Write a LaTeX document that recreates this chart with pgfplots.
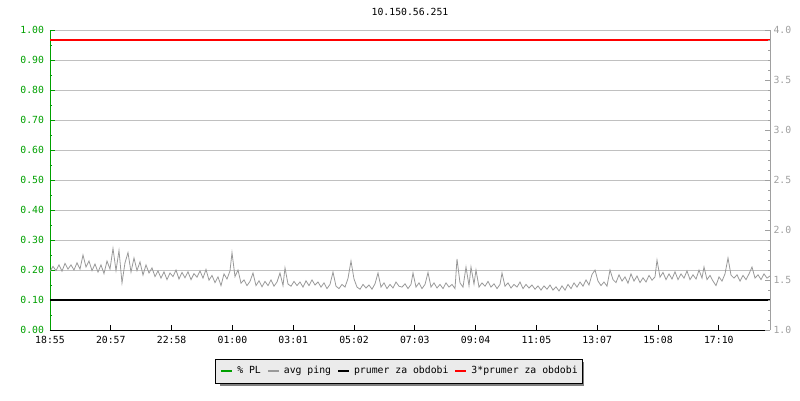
\documentclass[border=0pt]{standalone}
\usepackage{fontspec}
\setmainfont{DejaVu Sans Mono}
\usepackage{pgfplots}
\pgfplotsset{compat=1.18}
\definecolor{plgreen}{HTML}{00A000}
\definecolor{pinggray}{HTML}{999999}
\definecolor{gridgray}{HTML}{C0C0C0}
\definecolor{raxgray}{HTML}{A0A0A0}
\definecolor{legfill}{HTML}{EBEBEB}
\definecolor{shadowgray}{HTML}{808080}
\definecolor{pured}{RGB}{255,0,0}
\begin{document}
\begin{tikzpicture}[font=\fontsize{9.8}{11}\selectfont]
\path[use as bounding box] (0pt,0pt) rectangle (800pt,400pt);
\fill[shadowgray] (220pt,14pt) rectangle (584pt,38pt);
\begin{axis}[
  at={(50pt,70pt)}, anchor=south west,
  width=720pt, height=300pt, scale only axis,
  xmin=0, xmax=720, ymin=0, ymax=1,
  axis lines*=left,
  x axis line style={black, line width=0.8pt},
  y axis line style={plgreen, line width=0.8pt},
  tick align=inside,
  major tick length=5pt, minor tick length=2.5pt,
  xtick={0,60.8,121.6,182.4,243.2,304,364.8,425.6,486.4,547.2,608,668.8},
  xticklabels={18:55,20:57,22:58,01:00,03:01,05:02,07:03,09:04,11:05,13:07,15:08,17:10},
  x tick style={black, line width=0.8pt},
  ytick={0,0.1,0.2,0.3,0.4,0.5,0.6,0.7,0.8,0.9,1.0},
  minor y tick num=1,
  y tick style={plgreen, line width=0.8pt},
  ymajorgrids,
  major grid style={gridgray, line width=0.8pt},
  yticklabel style={plgreen, xshift=-2.5pt, /pgf/number format/.cd, fixed, fixed zerofill, precision=2, assume math mode=true},
  xticklabel style={black, yshift=-2.5pt},
  title={10.150.56.251},
  every axis title/.style={at={(0.5,1)}, anchor=center, yshift=18pt},
  legend columns=4,
  legend style={at={(0.4847,-0.1367)}, anchor=center, draw=black, fill=legfill,
    line width=0.8pt, inner xsep=5pt, inner ysep=7.5pt,
    nodes={inner sep=0pt, anchor=base west},
    /tikz/every odd column/.append style={column sep=4pt},
    /tikz/every even column/.append style={column sep=6pt},
    font=\fontsize{9.8}{11}\selectfont},
  legend image code/.code={\draw[#1, line width=2pt] (0pt,0.3em) -- (11pt,0.3em);},
]
\addlegendimage{plgreen}
\addlegendentry{\% PL}
\addplot[pinggray, line width=0.8pt] coordinates {
(0,0.195)(3,0.212)(6,0.198)(9,0.217)(12,0.196)(15,0.222)(18,0.203)(21,0.217)(24,0.200)(27,0.224)
(30,0.203)(33,0.250)(36,0.210)(39,0.230)(42,0.198)(45,0.220)(48,0.193)(51,0.217)(54,0.188)(57,0.230)
(60,0.203)(63,0.272)(66,0.198)(69,0.265)(72,0.157)(75,0.224)(78,0.258)(81,0.193)(84,0.240)(87,0.198)
(90,0.227)(93,0.183)(96,0.217)(99,0.190)(102,0.207)(105,0.178)(108,0.197)(111,0.173)(114,0.194)(117,0.168)
(120,0.190)(123,0.178)(126,0.200)(129,0.170)(132,0.192)(135,0.174)(138,0.194)(141,0.168)(144,0.188)(147,0.176)
(150,0.197)(153,0.173)(156,0.202)(159,0.166)(162,0.182)(165,0.158)(168,0.177)(171,0.148)(174,0.187)(177,0.170)
(180,0.197)(182,0.258)(185,0.178)(188,0.200)(191,0.156)(194,0.167)(197,0.148)(200,0.162)(203,0.190)(206,0.148)
(209,0.164)(212,0.144)(215,0.162)(218,0.148)(221,0.167)(224,0.146)(227,0.160)(230,0.190)(233,0.148)(235,0.207)
(238,0.153)(241,0.146)(244,0.162)(247,0.148)(250,0.160)(253,0.143)(256,0.164)(259,0.148)(262,0.167)(265,0.150)
(268,0.160)(271,0.143)(274,0.157)(277,0.138)(280,0.152)(283,0.193)(286,0.146)(289,0.138)(292,0.152)(295,0.143)
(298,0.172)(301,0.230)(304,0.170)(307,0.143)(310,0.136)(313,0.152)(316,0.140)(319,0.150)(322,0.136)(325,0.154)
(328,0.190)(331,0.143)(334,0.157)(337,0.138)(340,0.152)(343,0.140)(346,0.160)(349,0.146)(352,0.143)(355,0.154)
(358,0.138)(361,0.152)(363,0.190)(366,0.143)(369,0.157)(372,0.138)(375,0.152)(378,0.192)(381,0.143)(384,0.157)
(387,0.140)(390,0.152)(393,0.138)(396,0.157)(399,0.143)(402,0.152)(405,0.138)(407,0.237)(410,0.157)(413,0.143)
(416,0.210)(419,0.148)(421,0.210)(424,0.153)(426,0.200)(429,0.143)(432,0.157)(435,0.146)(438,0.162)(441,0.143)
(444,0.154)(447,0.138)(450,0.152)(452,0.190)(455,0.146)(458,0.157)(461,0.140)(464,0.152)(467,0.143)(470,0.160)
(473,0.138)(476,0.152)(479,0.140)(482,0.150)(485,0.136)(488,0.147)(491,0.133)(494,0.147)(497,0.136)(500,0.150)
(503,0.133)(506,0.144)(509,0.130)(512,0.147)(515,0.133)(518,0.152)(521,0.138)(524,0.157)(527,0.143)(530,0.160)
(533,0.146)(536,0.167)(539,0.150)(542,0.185)(545,0.200)(548,0.163)(551,0.148)(554,0.160)(557,0.146)(560,0.200)
(563,0.168)(566,0.158)(569,0.184)(572,0.163)(575,0.177)(578,0.156)(581,0.187)(584,0.163)(587,0.180)(590,0.158)
(593,0.174)(596,0.160)(599,0.182)(602,0.166)(605,0.177)(607,0.233)(610,0.176)(613,0.192)(616,0.168)(619,0.187)
(622,0.170)(625,0.194)(628,0.168)(631,0.187)(634,0.173)(637,0.197)(640,0.168)(643,0.184)(646,0.170)(649,0.200)
(652,0.173)(654,0.210)(657,0.168)(660,0.182)(663,0.163)(666,0.148)(669,0.177)(672,0.163)(675,0.187)(678,0.240)
(681,0.183)(684,0.173)(687,0.184)(690,0.163)(693,0.182)(696,0.168)(699,0.187)(702,0.210)(705,0.173)(708,0.184)
(711,0.168)(714,0.187)(717,0.173)(720,0.180)
};
\addlegendentry{avg ping}
\addplot[black, line width=2pt] coordinates {(0,0.10)(720,0.10)};
\addlegendentry{prumer za obdobi}
\addplot[draw=pured, color=pured, line width=1.4pt] coordinates {(0,0.967)(720,0.967)};
\addlegendentry{3*prumer za obdobi}
\end{axis}
\begin{axis}[
  at={(50pt,70pt)}, anchor=south west,
  width=720pt, height=300pt, scale only axis,
  xmin=0, xmax=720, ymin=1, ymax=4,
  axis x line=none,
  axis y line*=right,
  y axis line style={raxgray, line width=0.8pt},
  tick align=inside,
  major tick length=5pt, minor tick length=2.5pt,
  ytick={1,1.5,2,2.5,3,3.5,4},
  minor y tick num=4,
  y tick style={raxgray, line width=0.8pt},
  yticklabel style={raxgray, /pgf/number format/.cd, fixed, fixed zerofill, precision=1, assume math mode=true},
]
\end{axis}
\end{tikzpicture}
\end{document}
